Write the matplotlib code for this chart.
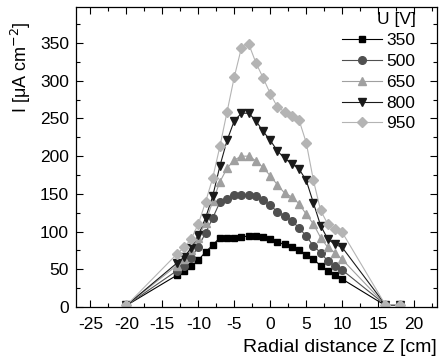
import matplotlib
matplotlib.use("Agg")
import matplotlib.pyplot as plt
from matplotlib.ticker import MultipleLocator

plt.rcParams['font.family'] = ['Liberation Sans', 'DejaVu Sans']
plt.rcParams['axes.unicode_minus'] = False

# radial positions [cm]
z = [-20, -13, -12, -11, -10, -9, -8, -7, -6, -5, -4, -3, -2, -1, 0,
     1, 2, 3, 4, 5, 6, 7, 8, 9, 10, 16, 18]

# current density [uA cm^-2] for each voltage
i_350 = [2, 42, 48, 54, 62, 73, 82, 92, 92, 92, 93, 94, 94, 93, 90,
         86, 83, 80, 75, 69, 63, 55, 48, 42, 37, 2, 2]
i_500 = [2, 48, 55, 65, 80, 98, 118, 139, 143, 148, 149, 149, 147, 142, 135,
         126, 121, 114, 105, 94, 81, 72, 61, 54, 49, 3, 2]
i_650 = [2, 55, 64, 75, 92, 112, 140, 166, 184, 195, 200, 200, 194, 185, 174,
         162, 151, 146, 137, 123, 110, 92, 79, 72, 63, 3, 2]
i_800 = [2, 58, 66, 78, 95, 118, 147, 187, 221, 247, 257, 257, 247, 233, 221,
         207, 197, 190, 183, 168, 138, 108, 90, 83, 79, 3, 2]
i_950 = [2, 70, 79, 90, 110, 139, 171, 213, 259, 305, 344, 349, 324, 304, 283,
         265, 259, 253, 248, 218, 168, 128, 110, 103, 99, 3, 3]

voltages = ['350', '500', '650', '800', '950']
series = [i_350, i_500, i_650, i_800, i_950]
markers = ['s', 'o', '^', 'v', 'D']
colors = ['#000000', '#505050', '#a0a0a0', '#1a1a1a', '#b4b4b4']
msizes = [5, 5.5, 6, 6, 5]

fig = plt.figure(figsize=(4.42, 3.62), dpi=100)
ax = fig.add_axes([0.172, 0.152, 0.817, 0.829])

for lab, y, m, c, ms in zip(voltages, series, markers, colors, msizes):
    ax.plot(z, y, marker=m, color=c, markersize=ms, linewidth=0.8,
            markeredgecolor=c, label=lab)

ax.set_xlim(-27, 23.2)
ax.set_ylim(0, 398)
ax.set_xticks([-25, -20, -15, -10, -5, 0, 5, 10, 15, 20])
ax.set_yticks([0, 50, 100, 150, 200, 250, 300, 350])
ax.xaxis.set_minor_locator(MultipleLocator(2.5))
ax.yaxis.set_minor_locator(MultipleLocator(25))
ax.tick_params(which='both', direction='in', top=True, right=True, labelsize=12.5)
ax.tick_params(which='major', length=5, width=0.8, pad=5)
ax.tick_params(axis='x', which='major', pad=7)
ax.tick_params(which='minor', length=3, width=0.8)
for sp in ax.spines.values():
    sp.set_linewidth(0.9)

ax.set_xlabel('Radial distance Z [cm]', fontsize=14, loc='right', labelpad=5)
ax.set_ylabel('I [\u03bcA cm$^{-2}$]', fontsize=13)
ax.yaxis.set_label_coords(-0.118, 0.8)

leg = ax.legend(title='U [V]', loc='upper right', bbox_to_anchor=(0.955, 1.0),
                frameon=False, fontsize=12.5, title_fontsize=12.5,
                handlelength=2.3, handletextpad=0.25, labelspacing=0.33,
                borderaxespad=0.0, borderpad=0.3)
leg._legend_box.align = 'right'

fig.savefig('out.png', dpi=100)
